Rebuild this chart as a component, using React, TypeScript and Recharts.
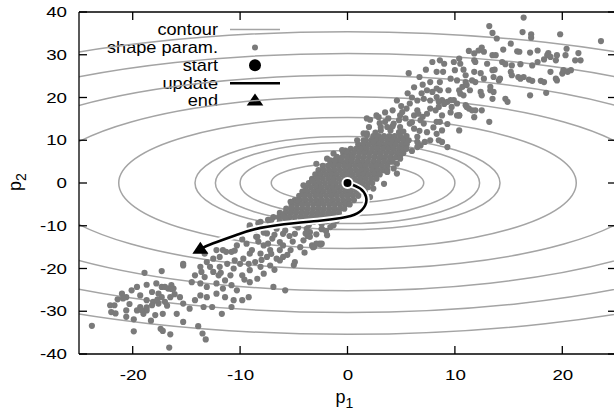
import React from "react";
import { ScatterChart, Scatter, XAxis, YAxis, ReferenceArea, Customized } from "recharts";

const FONT = '"Liberation Sans", Arial, Helvetica, sans-serif';

const xTicks = [-20, -10, 0, 10, 20];
const yTicks = [-40, -30, -20, -10, 0, 10, 20, 30, 40];
const legendLabels = ["contour", "shape param.", "start", "update", "end"];

// contour ellipses: half width along p1, half height along p2
const contourHalfP1 = [7.1, 10.0, 12.3, 14.2, 21.3, 28.5, 36, 43.6, 50];
const contourHalfP2 = [4.6, 7.6, 9.5, 10.9, 15.3, 20.2, 25.2, 30.3, 35.4];

const startPoint = [{ x: 0, y: 0 }];
const endPoint = [{ x: -13.7, y: -15.4 }];
const updateP1 = [0, 1.18, 1.72, 1.65, 0.9, -0.6, -2.8, -5.0, -8.1, -10.3, -12.5, -13.7];
const updateP2 = [0, -1.3, -3.2, -5.2, -7.1, -8.2, -8.9, -9.4, -10.5, -12.1, -14.1, -15.4];

// shape parameter samples, upper right arm
const upperCloud: [number, number][] = [
  [16.4, 38.7], [13.2, 36.7], [13.5, 35.1], [13.9, 33.8], [16.3, 35.3], [17.1, 34.8], [17.1, 34.0], [19.8, 34.8],
  [23.6, 33.2], [15.2, 32.6], [14.5, 31.2], [12.5, 31.7], [12.2, 31.0], [11.3, 30.9], [11.8, 30.3], [12.7, 30.7],
  [13.5, 29.9], [13.8, 29.9], [15.8, 30.8], [16.0, 30.7], [17.0, 30.5], [17.7, 31.0], [18.7, 30.4], [19.5, 29.9],
  [18.9, 29.5], [20.4, 31.4], [20.3, 29.9], [21.5, 30.4], [21.7, 28.7], [21.2, 28.7], [8.6, 28.7], [9.9, 28.3],
  [10.4, 29.1], [10.5, 27.9], [11.8, 28.7], [11.9, 28.3], [13.0, 27.9], [14.4, 28.3], [14.7, 27.8], [15.3, 27.5],
  [16.1, 27.8], [17.2, 27.5], [17.7, 28.3], [18.3, 28.9], [18.6, 29.9], [19.4, 28.7], [9.0, 27.9], [10.0, 26.4],
  [10.8, 26.5], [11.0, 25.2], [11.8, 26.0], [12.4, 25.7], [12.7, 24.4], [13.5, 26.4], [13.7, 26.5], [13.6, 24.8],
  [14.1, 24.0], [14.2, 24.4], [15.2, 26.0], [15.3, 25.2], [15.9, 24.8], [16.1, 24.4], [16.4, 24.8], [16.9, 24.2],
  [17.2, 23.9], [18.0, 23.9], [18.3, 23.6], [18.9, 26.0], [19.5, 24.0], [20.0, 25.6], [20.1, 26.4], [20.5, 26.0],
  [20.8, 26.4], [19.4, 24.4], [8.6, 23.6], [9.6, 24.4], [10.2, 24.0], [10.4, 21.7], [10.7, 22.5], [11.0, 23.6],
  [11.1, 22.9], [10.5, 20.9], [10.8, 20.5], [11.4, 21.7], [11.6, 24.0], [11.9, 23.6], [12.4, 21.3], [12.5, 20.5],
  [13.3, 22.5], [13.3, 21.7], [13.6, 21.3], [13.5, 19.7], [14.7, 19.7], [14.9, 19.0], [17.0, 20.5], [18.5, 21.1],
  [8.6, 21.7], [8.8, 19.4], [9.4, 21.7], [9.3, 19.0], [9.6, 19.4], [9.9, 19.4], [10.2, 18.6], [9.7, 17.8],
  [11.0, 18.2], [11.1, 17.8], [11.3, 17.4], [11.6, 17.0], [11.9, 17.0], [11.8, 15.4], [12.5, 17.0], [10.4, 15.8],
  [8.8, 15.8], [13.2, 14.3], [8.6, 14.3], [8.9, 26.0],
  [5.7, 25.7], [6.7, 24.8], [7.3, 26.5], [8.3, 26.0], [7.9, 28.3], [7.7, 23.6], [7.4, 21.7], [8.3, 22.1],
  [7.9, 21.3], [7.1, 19.7], [6.5, 19.3], [5.8, 18.6], [5.5, 17.4], [5.1, 16.6], [4.6, 19.3], [7.7, 19.3],
  [8.3, 20.1], [7.7, 17.4], [8.2, 17.0], [7.4, 16.2], [6.5, 17.0], [6.2, 15.8], [6.8, 14.7], [5.4, 15.1],
  [4.8, 14.7], [4.3, 13.9], [3.8, 15.1], [3.5, 14.3], [2.9, 15.4], [2.1, 14.8], [2.0, 13.1], [3.1, 12.3],
  [3.7, 13.1], [4.9, 13.1], [5.8, 13.9], [6.2, 12.7], [7.1, 13.9], [7.4, 11.9], [7.7, 10.0], [8.3, 11.5],
  [8.5, 10.0], [8.8, 12.3], [8.3, 14.3], [10.4, 12.3], [10.2, 15.8], [6.6, 8.8], [5.5, 9.2], [4.6, 10.0],
  [1.5, 10.0], [1.8, 11.2], [2.4, 10.4], [1.3, 8.4], [-0.2, 7.6], [-1.0, 6.1], [-0.7, 5.3], [-1.6, 5.3],
  [0.3, 6.1], [1.8, 7.3], [3.4, 8.4], [3.8, 10.0], [4.8, 11.9], [6.5, 10.8], [4.0, 5.3], [3.1, 6.1],
  [2.4, 3.7], [4.6, 4.5], [3.7, 3.0], [1.5, 3.7],
  [5.0, 18.0], [6.0, 20.0], [6.9, 21.0], [7.0, 23.0], [6.2, 22.4], [5.6, 21.0], [4.2, 17.0], [4.9, 15.8],
  [3.5, 16.5], [6.0, 14.2], [7.0, 15.5], [5.2, 12.0], [6.7, 12.2], [8.0, 13.0], [9.3, 13.8], [9.6, 16.5],
  [9.0, 18.5], [8.5, 19.0], [6.6, 16.2], [3.0, 14.0], [2.6, 11.8], [4.0, 12.3], [5.3, 10.5], [7.2, 9.6],
  [6.0, 7.5], [5.2, 7.0],
];

// dense centre of the cloud, one row per p2 value
const coreRows: [number, number[]][] = [
  [11, [2.4, 2.9, 3.4, 3.9, 4.4, 4.9, 5.5]],
  [10, [1.7, 2.2, 2.7, 3.2, 3.7, 4.2, 4.7, 5.2, 5.7]],
  [9, [1.0, 1.5, 2.0, 2.5, 3.0, 3.5, 4.0, 4.5, 5.0, 5.5]],
  [8, [0.3, 0.8, 1.3, 1.8, 2.3, 2.8, 3.3, 3.8, 4.3, 4.8, 5.2]],
  [7, [-0.4, 0.1, 0.6, 1.1, 1.6, 2.1, 2.6, 3.1, 3.6, 4.1, 4.6, 4.9]],
  [6, [-1.0, -0.5, 0, 0.5, 1.0, 1.5, 2.0, 2.5, 3.0, 3.5, 4.0, 4.5]],
  [5, [-1.6, -1.1, -0.6, -0.1, 0.4, 0.9, 1.4, 1.9, 2.4, 2.9, 3.4, 3.9, 4.2]],
  [4, [-2.3, -1.8, -1.3, -0.8, -0.3, 0.2, 0.7, 1.2, 1.7, 2.2, 2.7, 3.2, 3.7]],
  [3, [-2.7, -2.2, -1.7, -1.2, -0.7, -0.2, 0.3, 0.8, 1.3, 1.8, 2.3, 2.8, 3.3, 3.5]],
  [2, [-3.0, -2.5, -2.0, -1.5, -1.0, -0.5, 0, 0.5, 1.0, 1.5, 2.0, 2.5, 3.0]],
  [1, [-3.3, -2.8, -2.3, -1.8, -1.3, -0.8, -0.3, 0.2, 0.7, 1.2, 1.7, 2.2, 2.7]],
  [0, [-3.6, -3.1, -2.6, -2.1, -1.6, -1.1, -0.6, -0.1, 0.4, 0.9, 1.4, 1.9, 2.3]],
  [-1, [-3.9, -3.4, -2.9, -2.4, -1.9, -1.4, -0.9, -0.4, 0.1, 0.6, 1.1, 1.6, 1.9]],
  [-2, [-4.2, -3.7, -3.2, -2.7, -2.2, -1.7, -1.2, -0.7, -0.2, 0.3, 0.8, 1.3, 1.6]],
  [-3, [-4.5, -4.0, -3.5, -3.0, -2.5, -2.0, -1.5, -1.0, -0.5, 0, 0.5, 1.0]],
  [-4, [-4.9, -4.4, -3.9, -3.4, -2.9, -2.4, -1.9, -1.4, -0.9, -0.4, 0.1, 0.6]],
  [-5, [-5.2, -4.7, -4.2, -3.7, -3.2, -2.7, -2.2, -1.7, -1.2, -0.7, -0.2, 0.2]],
  [-6, [-5.7, -5.2, -4.7, -4.2, -3.7, -3.2, -2.7, -2.2, -1.7, -1.2, -0.7, -0.3]],
  [-7, [-6.3, -5.8, -5.3, -4.8, -4.3, -3.8, -3.3, -2.8, -2.3, -1.8, -1.3, -0.8]],
  [-8, [-6.9, -6.4, -5.9, -5.4, -4.9, -4.4, -3.9, -3.4, -2.9, -2.4, -1.9, -1.4]],
  [-9, [-7.2, -6.3, -5.6, -4.9, -4.3, -3.7, -3.1, -2.6, -2.0]],
];

// ragged edges of the centre
const edgeCloud: [number, number][] = [
  [-4.1, -0.55], [-4.6, -4.0], [-5.2, -5.6], [-6.0, -7.6], [-8.1, -9.1], [-9.1, -10.3], [-7.5, -11.8], [-8.5, -12.6],
  [-2.6, -14.2], [-3.3, -14.6], [-5.0, -19.2], [-11.3, -16.1], [-15.3, -18.9], [-13.7, -19.6],
  [1.8, 15.1], [2.7, 15.8], [3.1, 13.1], [1.5, 11.6], [2.4, 9.6], [8.8, 9.6], [9.3, 8.4], [10.4, 15.8],
  [8.5, 17.8], [6.5, 9.6], [4.9, 6.5], [-0.1, 7.3], [-1.2, 5.3], [-3.3, 0.6], [2.1, -3.3], [3.4, -0.2],
  [4.3, 3.4], [5.5, 8.0], [6.8, 8.8], [4.6, 2.2], [-7.1, -8.7], [-5.3, -4.4], [-1.6, -10.3], [-3.5, -11.5],
  [-2.4, -10.8], [-3.1, -14.9], [-2.5, -14.4], [-3.7, -12.4], [1.8, 11.6], [4.2, 13.3], [6.5, 8.4],
  [-2.9, 4.5], [-1.9, 5.7], [-1.3, 6.9], [-0.5, 7.7], [0.9, 10.0], [2.4, -1.3], [3.7, 2.6], [4.9, 5.7],
];

// lower left arm
const lowerCloud: [number, number][] = [
  [-9.1, -9.9], [-8.3, -9.4], [-7.2, -9.5], [-6.6, -10.7], [-5.8, -11.1], [-5.7, -8.7], [-4.9, -9.9], [-4.9, -11.9],
  [-3.8, -10.7], [-3.5, -12.6], [-2.4, -10.7], [-2.9, -14.2], [-2.4, -14.2], [-3.2, -15.0], [-4.9, -18.5], [-6.0, -17.3],
  [-6.3, -18.1], [-7.2, -15.7], [-7.8, -14.6], [-7.0, -13.0], [-6.3, -13.8], [-6.0, -11.9], [-8.4, -12.6], [-9.4, -14.2],
  [-8.9, -15.7], [-10.3, -14.6], [-10.8, -16.1], [-11.6, -15.7], [-12.2, -15.7], [-11.9, -17.3], [-12.5, -17.7], [-13.3, -16.5],
  [-13.1, -18.5], [-12.8, -19.6], [-11.9, -19.6], [-11.2, -18.9], [-10.5, -18.1], [-10.0, -18.9], [-9.2, -18.9], [-8.6, -18.5],
  [-9.1, -20.4], [-9.8, -21.6], [-10.9, -21.6], [-11.4, -22.8], [-12.5, -20.8], [-13.6, -20.8], [-14.2, -21.6], [-15.3, -19.3],
  [-14.5, -23.2], [-13.7, -23.5], [-13.1, -24.3], [-12.2, -23.5], [-11.6, -24.7], [-10.8, -23.9], [-10.3, -25.1], [-9.1, -23.2],
  [-8.4, -22.4], [-7.8, -21.2], [-6.9, -24.3], [-5.8, -25.1], [-7.2, -19.3], [-6.6, -17.7], [-6.3, -15.7], [-5.3, -15.7],
  [-7.5, -17.3], [-8.1, -19.6], [-9.2, -26.7], [-9.8, -27.4], [-10.6, -27.4], [-11.4, -26.7], [-12.2, -25.9], [-13.1, -26.7],
  [-13.7, -26.3], [-14.2, -27.4], [-13.4, -29.0], [-12.6, -29.0], [-11.7, -30.6], [-14.7, -29.4], [-15.3, -28.2], [-15.6, -26.7],
  [-16.2, -24.7], [-15.9, -30.6], [-10.8, -29.0], [-16.5, -26.7], [-16.4, -23.9], [-12.0, -21.6], [-13.3, -22.0], [-9.1, -16.5],
  [-9.7, -17.7], [-8.1, -16.5], [-7.4, -14.2], [-4.3, -9.1], [-3.2, -9.1], [-1.9, -8.7], [-1.3, -9.9], [-4.1, -13.4],
  [-4.4, -15.0], [-1.9, -12.2],
  [-8.6, -10.8], [-7.8, -11.6], [-6.8, -12.1], [-5.4, -12.4], [-4.6, -10.4], [-3.9, -11.8], [-2.9, -12.0], [-5.1, -13.7],
  [-6.0, -14.6], [-4.0, -16.3], [-5.6, -16.8], [-7.1, -16.6], [-8.3, -13.7], [-9.8, -13.2], [-10.5, -15.8], [-8.0, -18.0],
  [-6.8, -20.3], [-10.6, -20.0], [-11.8, -21.0], [-9.6, -22.6], [-2.0, -11.2], [-1.0, -8.8], [-2.4, -9.6], [-3.6, -9.8],
  [-6.1, -9.6], [-7.4, -8.6],
  [-23.8, -33.4], [-19.9, -34.7], [-16.6, -38.5], [-17.4, -34.1], [-17.2, -34.6], [-16.5, -35.4], [-18.9, -21.0], [-17.3, -20.6],
  [-18.7, -23.8], [-17.8, -23.5], [-17.3, -24.3], [-17.0, -24.3], [-16.7, -24.7], [-19.6, -24.3], [-20.1, -25.1], [-21.0, -25.9],
  [-20.6, -26.7], [-20.9, -27.0], [-19.3, -26.3], [-18.2, -25.5], [-17.6, -25.9], [-17.3, -26.7], [-18.1, -27.8], [-18.7, -27.4],
  [-17.0, -27.8], [-17.6, -28.2], [-22.1, -28.6], [-21.7, -28.6], [-22.0, -30.2], [-20.6, -29.8], [-19.6, -29.8], [-19.3, -29.0],
  [-18.7, -29.8], [-19.0, -30.6], [-17.9, -30.9], [-17.2, -30.6], [-20.6, -31.3], [-15.3, -32.5], [-13.9, -33.5], [-13.5, -35.2],
  [-13.2, -36.6], [-21.6, -30.5], [-19.2, -29.7], [-18.7, -29.1], [-16.8, -28.7], [-18.2, -28.6], [-17.7, -27.3], [-21.4, -27.2],
  [-20.3, -28.3], [-16.4, -24.8], [-16.1, -26.0], [-19.9, -31.9], [-18.3, -32.2],
];

const corePoints: [number, number][] = coreRows.flatMap(([y, xs]) => xs.map((x) => [x, y] as [number, number]));
const samples = [...upperCloud, ...corePoints, ...edgeCloud, ...lowerCloud].map(([x, y]) => ({ x, y }));
const updatePath = updateP1.map((x, i) => ({ x, y: updateP2[i] }));

const GRAY = "#7a7a7a";
const CONTOUR = "#a4a4a4";
const axisLine = { stroke: "#000", strokeWidth: 1.3 };
// plot box in pixels, follows from the chart margins and axis sizes below
const PLOT = { left: 79, right: 616, top: 12, bottom: 354 };
const TICK = 8;

// text in the original is drawn a little wide, so it is stretched sideways
const WideText = (props: {
  x: number;
  y: number;
  anchor: "end" | "middle";
  size: number;
  stretch: number;
  children: React.ReactNode;
}) => (
  <text
    transform={`translate(${props.x},${props.y}) scale(${props.stretch},1)`}
    textAnchor={props.anchor}
    fill="#000"
    fontFamily={FONT}
    fontSize={props.size}
  >
    {props.children}
  </text>
);

const LeftTick = (p: any) => {
  const y = p.payload.coordinate;
  return (
    <g>
      <line x1={PLOT.left} x2={PLOT.left + TICK} y1={y} y2={y} stroke="#000" strokeWidth={1.3} />
      <WideText x={67} y={y + 5.2} anchor="end" size={15} stretch={1.25}>{p.payload.value}</WideText>
    </g>
  );
};
const RightTick = (p: any) => {
  const y = p.payload.coordinate;
  return <line x1={PLOT.right - TICK} x2={PLOT.right} y1={y} y2={y} stroke="#000" strokeWidth={1.3} />;
};
const BottomTick = (p: any) => {
  const x = p.payload.coordinate;
  return (
    <g>
      <line x1={x} x2={x} y1={PLOT.bottom - TICK} y2={PLOT.bottom} stroke="#000" strokeWidth={1.3} />
      <WideText x={x + 0.5} y={380} anchor="middle" size={15} stretch={1.25}>{p.payload.value}</WideText>
    </g>
  );
};
const TopTick = (p: any) => {
  const x = p.payload.coordinate;
  return <line x1={x} x2={x} y1={PLOT.top} y2={PLOT.top + TICK} stroke="#000" strokeWidth={1.3} />;
};

const SampleDot = (p: any) => <circle cx={p.cx} cy={p.cy} r={3.1} fill={GRAY} />;
const StartDot = (p: any) => <circle cx={p.cx} cy={p.cy} r={5} fill="#000" stroke="#fff" strokeWidth={2} />;
const EndMark = (p: any) => (
  <path d={`M${p.cx},${p.cy - 7} L${p.cx + 8},${p.cy + 4.8} L${p.cx - 8},${p.cy + 4.8} Z`} fill="#000" />
);
const NoDot = () => <g />;

const ContourShape = (p: any) => (
  <ellipse
    cx={p.x + p.width / 2}
    cy={p.y + p.height / 2}
    rx={p.width / 2}
    ry={p.height / 2}
    fill="none"
    stroke={CONTOUR}
    strokeWidth={1.5}
    clipPath={p.clipPath}
  />
);

function XTitle(props: any) {
  const vb = props.viewBox || { x: 0, y: 0, width: 0, height: 0 };
  return (
    <text x={vb.x + vb.width / 2 - 3} y={vb.y + 49} textAnchor="middle" fontSize={18} fontFamily={FONT} fill="#000">
      p<tspan dy={5} fontSize={14}>1</tspan>
    </text>
  );
}

function YTitle(props: any) {
  const vb = props.viewBox || { x: 0, y: 0, width: 0, height: 0 };
  const cy = vb.y + vb.height / 2 - 1;
  return (
    <text transform={`translate(21,${cy}) rotate(-90)`} textAnchor="middle" fontSize={18} fontFamily={FONT} fill="#000">
      p<tspan dy={5} fontSize={14}>2</tspan>
    </text>
  );
}

function ChartLegend() {
  const textX = 218;
  const sampleX = 255;
  return (
    <g>
      {legendLabels.map((label, i) => {
        const cy = 29.5 + i * 17.9;
        let mark: React.ReactNode = null;
        if (i === 0) mark = <line x1={230} x2={280} y1={cy} y2={cy} stroke={CONTOUR} strokeWidth={1.5} />;
        if (i === 1) mark = <circle cx={sampleX} cy={cy} r={3} fill={GRAY} />;
        if (i === 2) mark = <circle cx={sampleX} cy={cy} r={6} fill="#000" />;
        if (i === 3) mark = <line x1={230} x2={280} y1={cy} y2={cy} stroke="#000" strokeWidth={2.6} />;
        if (i === 4) mark = <path d={`M${sampleX},${cy - 7.5} L${sampleX + 8.3},${cy + 4.5} L${sampleX - 8.3},${cy + 4.5} Z`} fill="#000" />;
        return (
          <g key={label}>
            <WideText x={textX} y={cy + 5.3} anchor="end" size={15.8} stretch={1.15}>{label}</WideText>
            {mark}
          </g>
        );
      })}
    </g>
  );
}

export default function App() {
  return (
    <div style={{ position: "fixed", left: 0, top: 0, width: 614, height: 414, overflow: "hidden", background: "#fff" }}>
      <ScatterChart width={617} height={414} margin={{ top: 11, right: 0, bottom: 0, left: 0 }}>
        <XAxis
          xAxisId="b"
          type="number"
          dataKey="x"
          domain={[-25, 25]}
          ticks={xTicks}
          allowDataOverflow
          height={60}
          axisLine={axisLine}
          tickLine={false}
          tick={BottomTick}
          label={<XTitle />}
        />
        <XAxis
          xAxisId="t"
          orientation="top"
          type="number"
          dataKey="x"
          domain={[-25, 25]}
          ticks={xTicks}
          allowDataOverflow
          height={1}
          axisLine={axisLine}
          tickLine={false}
          tick={TopTick}
        />
        <YAxis
          yAxisId="l"
          type="number"
          dataKey="y"
          domain={[-40, 40]}
          ticks={yTicks}
          allowDataOverflow
          width={79}
          axisLine={axisLine}
          tickLine={false}
          tick={LeftTick}
          label={<YTitle />}
        />
        <YAxis
          yAxisId="r"
          orientation="right"
          type="number"
          dataKey="y"
          domain={[-40, 40]}
          ticks={yTicks}
          allowDataOverflow
          width={1}
          axisLine={axisLine}
          tickLine={false}
          tick={RightTick}
        />
        {contourHalfP1.map((a, i) => (
          <ReferenceArea
            key={`c${i}`}
            xAxisId="b"
            yAxisId="l"
            x1={-a}
            x2={a}
            y1={-contourHalfP2[i]}
            y2={contourHalfP2[i]}
            ifOverflow="hidden"
            shape={ContourShape}
          />
        ))}
        <Customized component={<ChartLegend />} />
        <Scatter xAxisId="b" yAxisId="l" name="shape param." data={samples} shape={SampleDot} isAnimationActive={false} />
        <Scatter
          xAxisId="b"
          yAxisId="l"
          data={updatePath}
          line={{ stroke: "#fff", strokeWidth: 6.5 }}
          lineJointType="natural"
          shape={NoDot}
          isAnimationActive={false}
        />
        <Scatter
          xAxisId="b"
          yAxisId="l"
          name="update"
          data={updatePath}
          line={{ stroke: "#000", strokeWidth: 2.6 }}
          lineJointType="natural"
          shape={NoDot}
          isAnimationActive={false}
        />
        <Scatter xAxisId="b" yAxisId="l" name="start" data={startPoint} shape={StartDot} isAnimationActive={false} />
        <Scatter xAxisId="b" yAxisId="l" name="end" data={endPoint} shape={EndMark} isAnimationActive={false} />
      </ScatterChart>
    </div>
  );
}
